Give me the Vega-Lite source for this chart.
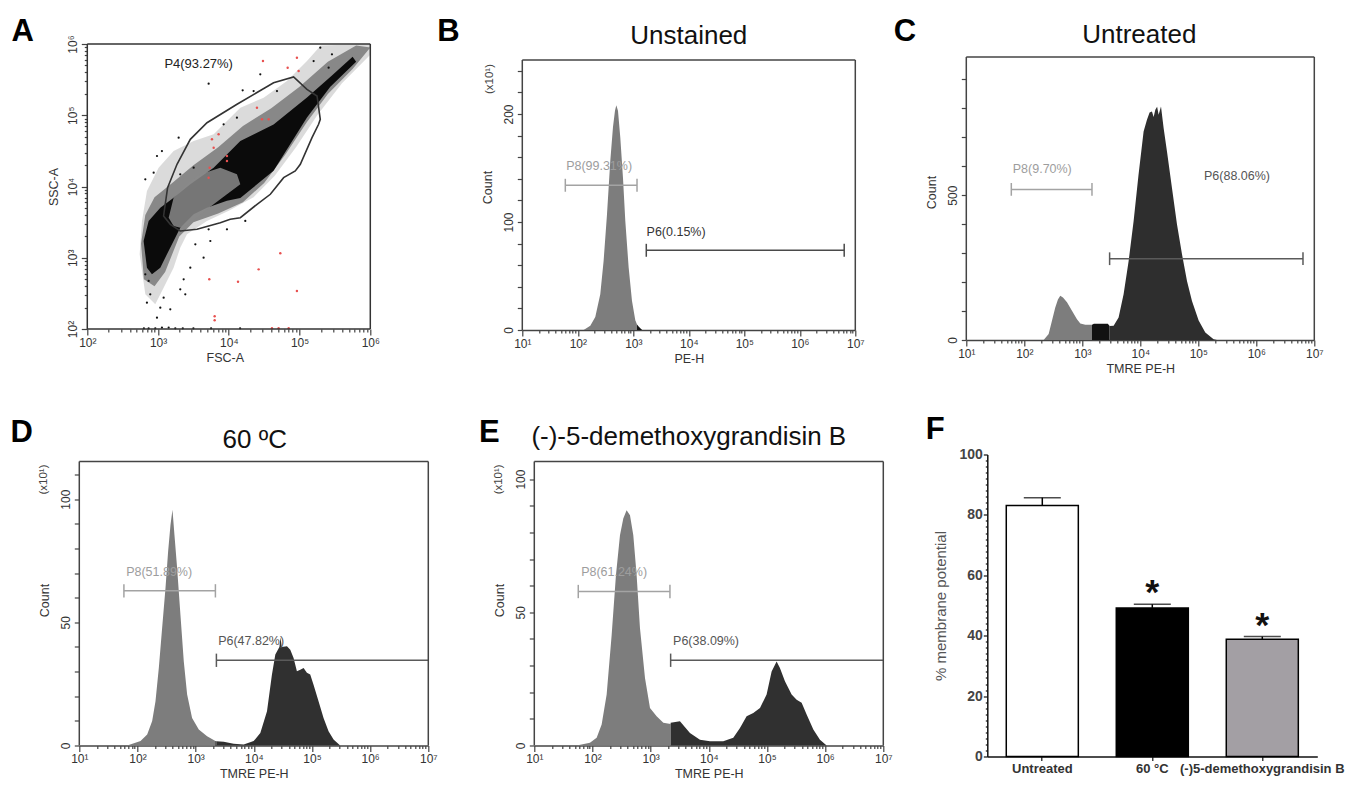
{
  "$schema": "https://vega.github.io/schema/vega-lite/v6.json",
  "background": "white",
  "padding": {"left": 10.3, "top": 15, "right": 5, "bottom": 5},
  "config": {
    "font": "Liberation Sans",
    "view": {"stroke": null},
    "axis": {"grid": false, "domainColor": "#444", "domainWidth": 1.5, "tickColor": "#444", "tickWidth": 1.2, "labelColor": "#333", "titleColor": "#333", "labelFont": "Liberation Sans", "titleFont": "Liberation Sans", "labelFontSize": 12, "titleFontSize": 12.5, "titleFontWeight": "normal"},
    "text": {"font": "Liberation Sans"}
  },
  "spacing": 38.5,
  "resolve": {"scale": {"fill": "independent", "stroke": "independent", "color": "independent"}},
  "vconcat": [
    {
      "spacing": 56,
      "resolve": {"scale": {"fill": "independent", "stroke": "independent", "color": "independent"}},
      "hconcat": [
        {
          "width": 291, "height": 285,
          "encoding": {
            "x": {"field": "fsc", "type": "quantitative", "scale": {"domain": [1.887, 6], "nice": false, "zero": false},
              "axis": {"title": "FSC-A", "domain": false, "tickCount": 100, "values": [2,2.301,2.477,2.602,2.699,2.778,2.845,2.903,2.954,3,3.301,3.477,3.602,3.699,3.778,3.845,3.903,3.954,4,4.301,4.477,4.602,4.699,4.778,4.845,4.903,4.954,5,5.301,5.477,5.602,5.699,5.778,5.845,5.903,5.954,6],
                "labelExpr": "abs(datum.value - round(datum.value)) < 0.001 ? '10' + ['⁰','¹','²','³','⁴','⁵','⁶','⁷'][round(datum.value)] : ''",
                "tickSize": {"condition": {"test": "abs(datum.value - round(datum.value)) < 0.001", "value": 6}, "value": 3},
                "labelOverlap": false, "labelFlush": false, "labelPadding": 2, "titlePadding": 3}},
            "y": {"field": "ssc", "type": "quantitative", "scale": {"domain": [2, 6], "nice": false, "zero": false},
              "axis": {"title": "SSC-A", "domain": false, "offset": -8, "tickCount": 100, "values": [2,2.301,2.477,2.602,2.699,2.778,2.845,2.903,2.954,3,3.301,3.477,3.602,3.699,3.778,3.845,3.903,3.954,4,4.301,4.477,4.602,4.699,4.778,4.845,4.903,4.954,5,5.301,5.477,5.602,5.699,5.778,5.845,5.903,5.954,6],
                "labelExpr": "abs(datum.value - round(datum.value)) < 0.001 ? '10' + ['⁰','¹','²','³','⁴','⁵','⁶','⁷'][round(datum.value)] : ''",
                "tickSize": {"condition": {"test": "abs(datum.value - round(datum.value)) < 0.001", "value": 6}, "value": 3},
                "labelOverlap": false, "labelFlush": false, "labelAngle": 270, "labelAlign": "center", "labelBaseline": "bottom", "labelPadding": 2, "titlePadding": 6}}
          },
          "layer": [
            {"data": {"values": [{"i":0,"fsc":2.82,"ssc":2.487},{"i":1,"fsc":2.74,"ssc":3.048},{"i":2,"fsc":2.773,"ssc":3.516},{"i":3,"fsc":2.843,"ssc":3.937},{"i":4,"fsc":3.008,"ssc":4.264},{"i":5,"fsc":3.22,"ssc":4.498},{"i":6,"fsc":3.503,"ssc":4.639},{"i":7,"fsc":3.786,"ssc":4.732},{"i":8,"fsc":4.163,"ssc":5.106},{"i":9,"fsc":4.492,"ssc":5.247},{"i":10,"fsc":4.822,"ssc":5.481},{"i":11,"fsc":5.105,"ssc":5.761},{"i":12,"fsc":5.3,"ssc":5.98},{"i":13,"fsc":6.0,"ssc":6.0},{"i":14,"fsc":6.0,"ssc":5.85},{"i":15,"fsc":5.6,"ssc":5.45},{"i":16,"fsc":5.25,"ssc":5.0},{"i":17,"fsc":4.95,"ssc":4.55},{"i":18,"fsc":4.65,"ssc":4.15},{"i":19,"fsc":4.35,"ssc":3.85},{"i":20,"fsc":4.0,"ssc":3.66},{"i":21,"fsc":3.691,"ssc":3.516},{"i":22,"fsc":3.409,"ssc":3.329},{"i":23,"fsc":3.314,"ssc":3.141},{"i":24,"fsc":3.22,"ssc":2.861},{"i":25,"fsc":3.079,"ssc":2.58},{"i":26,"fsc":2.961,"ssc":2.346}]},
             "mark": {"type": "line", "interpolate": "linear-closed", "fill": "#000", "fillOpacity": 0.14, "strokeOpacity": 0},
             "encoding": {"order": {"field": "i", "type": "quantitative"}}},
            {"data": {"values": [{"i":0,"fsc":2.8,"ssc":2.7},{"i":1,"fsc":2.76,"ssc":3.2},{"i":2,"fsc":2.82,"ssc":3.6},{"i":3,"fsc":2.95,"ssc":3.85},{"i":4,"fsc":3.2,"ssc":4.05},{"i":5,"fsc":3.5,"ssc":4.3},{"i":6,"fsc":3.85,"ssc":4.55},{"i":7,"fsc":4.2,"ssc":4.85},{"i":8,"fsc":4.6,"ssc":5.1},{"i":9,"fsc":5.0,"ssc":5.4},{"i":10,"fsc":5.4,"ssc":5.75},{"i":11,"fsc":5.8,"ssc":5.98},{"i":12,"fsc":6.0,"ssc":5.95},{"i":13,"fsc":5.75,"ssc":5.65},{"i":14,"fsc":5.4,"ssc":5.3},{"i":15,"fsc":5.1,"ssc":4.9},{"i":16,"fsc":4.8,"ssc":4.45},{"i":17,"fsc":4.5,"ssc":4.05},{"i":18,"fsc":4.2,"ssc":3.78},{"i":19,"fsc":3.85,"ssc":3.62},{"i":20,"fsc":3.5,"ssc":3.5},{"i":21,"fsc":3.3,"ssc":3.3},{"i":22,"fsc":3.2,"ssc":3.05},{"i":23,"fsc":3.1,"ssc":2.8},{"i":24,"fsc":2.95,"ssc":2.6}]},
             "mark": {"type": "line", "interpolate": "linear-closed", "fill": "#000", "fillOpacity": 0.38, "strokeOpacity": 0},
             "encoding": {"order": {"field": "i", "type": "quantitative"}}},
            {"data": {"values": [{"i":0,"fsc":2.843,"ssc":2.861},{"i":1,"fsc":2.796,"ssc":3.235},{"i":2,"fsc":2.867,"ssc":3.516},{"i":3,"fsc":3.032,"ssc":3.703},{"i":4,"fsc":3.22,"ssc":3.843},{"i":5,"fsc":3.456,"ssc":4.03},{"i":6,"fsc":3.786,"ssc":4.264},{"i":7,"fsc":4.163,"ssc":4.64},{"i":8,"fsc":4.633,"ssc":4.87},{"i":9,"fsc":5.105,"ssc":5.25},{"i":10,"fsc":5.45,"ssc":5.55},{"i":11,"fsc":5.75,"ssc":5.82},{"i":12,"fsc":5.8,"ssc":5.75},{"i":13,"fsc":5.435,"ssc":5.4},{"i":14,"fsc":5.105,"ssc":4.97},{"i":15,"fsc":4.633,"ssc":4.22},{"i":16,"fsc":4.163,"ssc":3.84},{"i":17,"fsc":3.974,"ssc":3.8},{"i":18,"fsc":3.691,"ssc":3.703},{"i":19,"fsc":3.503,"ssc":3.609},{"i":20,"fsc":3.314,"ssc":3.422},{"i":21,"fsc":3.22,"ssc":3.235},{"i":22,"fsc":3.126,"ssc":3.048},{"i":23,"fsc":3.032,"ssc":2.861},{"i":24,"fsc":2.914,"ssc":2.767}]},
             "mark": {"type": "line", "interpolate": "linear-closed", "fill": "#000", "fillOpacity": 0.92, "strokeOpacity": 0},
             "encoding": {"order": {"field": "i", "type": "quantitative"}}},
            {"data": {"values": [{"i":0,"fsc":3.15,"ssc":3.563},{"i":1,"fsc":3.22,"ssc":3.843},{"i":2,"fsc":3.409,"ssc":4.03},{"i":3,"fsc":3.597,"ssc":4.171},{"i":4,"fsc":3.88,"ssc":4.264},{"i":5,"fsc":4.115,"ssc":4.171},{"i":6,"fsc":4.163,"ssc":4.03},{"i":7,"fsc":3.974,"ssc":3.89},{"i":8,"fsc":3.786,"ssc":3.75},{"i":9,"fsc":3.597,"ssc":3.609},{"i":10,"fsc":3.456,"ssc":3.492},{"i":11,"fsc":3.314,"ssc":3.422},{"i":12,"fsc":3.22,"ssc":3.446}]},
             "mark": {"type": "line", "interpolate": "linear-closed", "fill": "#8a8a8a", "fillOpacity": 0.85, "strokeOpacity": 0},
             "encoding": {"order": {"field": "i", "type": "quantitative"}}},
            {"data": {"values": [{"fsc":3.715,"ssc":5.443},{"fsc":4.196,"ssc":5.35},{"fsc":3.291,"ssc":4.685},{"fsc":3.055,"ssc":4.498},{"fsc":2.985,"ssc":4.428},{"fsc":2.938,"ssc":4.194},{"fsc":2.82,"ssc":4.101},{"fsc":2.82,"ssc":2.767},{"fsc":2.867,"ssc":2.674},{"fsc":2.89,"ssc":2.487},{"fsc":3.032,"ssc":2.299},{"fsc":3.173,"ssc":2.276},{"fsc":2.985,"ssc":2.159},{"fsc":2.843,"ssc":2.37},{"fsc":3.079,"ssc":2.44},{"fsc":3.314,"ssc":2.557},{"fsc":3.385,"ssc":2.487},{"fsc":3.362,"ssc":2.697},{"fsc":3.456,"ssc":2.861},{"fsc":3.644,"ssc":3.001},{"fsc":3.739,"ssc":3.235},{"fsc":3.974,"ssc":3.399},{"fsc":4.233,"ssc":3.516},{"fsc":3.527,"ssc":3.188},{"fsc":3.715,"ssc":3.399},{"fsc":2.867,"ssc":2.01},{"fsc":2.961,"ssc":2.01},{"fsc":3.055,"ssc":2.02},{"fsc":3.15,"ssc":2.02},{"fsc":3.244,"ssc":2.01},{"fsc":2.8,"ssc":2.01},{"fsc":3.35,"ssc":2.01},{"fsc":3.5,"ssc":2.01},{"fsc":3.75,"ssc":2.01},{"fsc":4.16,"ssc":2.01},{"fsc":5.293,"ssc":5.949},{"fsc":5.199,"ssc":5.761},{"fsc":5.411,"ssc":5.668},{"fsc":5.458,"ssc":5.855},{"fsc":4.445,"ssc":5.574},{"fsc":4.681,"ssc":5.34},{"fsc":4.351,"ssc":5.34},{"fsc":4.115,"ssc":4.966},{"fsc":3.927,"ssc":4.873},{"fsc":3.503,"ssc":4.264},{"fsc":3.314,"ssc":4.171}]},
             "mark": {"type": "point", "filled": true, "size": 5, "color": "#111", "opacity": 1},
             "encoding": {}},
            {"data": {"values": [{"fsc":4.483,"ssc":5.761},{"fsc":4.832,"ssc":5.668},{"fsc":4.963,"ssc":5.808},{"fsc":4.987,"ssc":5.621},{"fsc":3.856,"ssc":4.732},{"fsc":3.762,"ssc":4.662},{"fsc":3.786,"ssc":4.545},{"fsc":3.974,"ssc":4.428},{"fsc":3.974,"ssc":4.358},{"fsc":3.729,"ssc":4.264},{"fsc":3.715,"ssc":4.124},{"fsc":4.398,"ssc":5.106},{"fsc":4.469,"ssc":4.943},{"fsc":4.563,"ssc":4.943},{"fsc":4.728,"ssc":3.062},{"fsc":4.422,"ssc":2.837},{"fsc":4.13,"ssc":2.664},{"fsc":3.724,"ssc":2.697},{"fsc":4.963,"ssc":2.533},{"fsc":3.8,"ssc":2.178},{"fsc":3.8,"ssc":2.122},{"fsc":4.61,"ssc":2.01},{"fsc":4.704,"ssc":2.01},{"fsc":4.846,"ssc":2.01}]},
             "mark": {"type": "point", "filled": true, "size": 6, "color": "#e8504f", "opacity": 1},
             "encoding": {}},
            {"data": {"values": [{"i":0,"fsc":3.078,"ssc":3.586},{"i":1,"fsc":3.135,"ssc":3.983},{"i":2,"fsc":3.268,"ssc":4.312},{"i":3,"fsc":3.456,"ssc":4.662},{"i":4,"fsc":3.692,"ssc":4.895},{"i":5,"fsc":4.116,"ssc":5.154},{"i":6,"fsc":4.633,"ssc":5.457},{"i":7,"fsc":4.916,"ssc":5.537},{"i":8,"fsc":5.105,"ssc":5.364},{"i":9,"fsc":5.247,"ssc":5.27},{"i":10,"fsc":5.293,"ssc":4.943},{"i":11,"fsc":5.269,"ssc":4.873},{"i":12,"fsc":5.176,"ssc":4.685},{"i":13,"fsc":5.011,"ssc":4.312},{"i":14,"fsc":4.94,"ssc":4.218},{"i":15,"fsc":4.775,"ssc":4.124},{"i":16,"fsc":4.587,"ssc":3.891},{"i":17,"fsc":4.399,"ssc":3.75},{"i":18,"fsc":4.163,"ssc":3.562},{"i":19,"fsc":4.02,"ssc":3.54},{"i":20,"fsc":3.88,"ssc":3.492},{"i":21,"fsc":3.55,"ssc":3.399},{"i":22,"fsc":3.314,"ssc":3.375},{"i":23,"fsc":3.173,"ssc":3.469}]},
             "mark": {"type": "line", "interpolate": "linear-closed", "color": "#333", "strokeWidth": 1.6},
             "encoding": {"order": {"field": "i", "type": "quantitative"}}},
            {"data": {"values": [{"fsc":2,"fsc_end":6,"ssc":2,"ssc_end":2},{"fsc":2,"fsc_end":6,"ssc":6,"ssc_end":6},{"fsc":2,"fsc_end":2,"ssc":2,"ssc_end":6},{"fsc":6,"fsc_end":6,"ssc":2,"ssc_end":6}]},
             "mark": {"type": "rule", "color": "#333", "strokeWidth": 1.5},
             "encoding": {"x2": {"field": "fsc_end"}, "y2": {"field": "ssc_end"}}},
            {"data": {"values": [{"fsc": 3.574, "ssc": 5.715, "label": "P4(93.27%)"}]},
             "mark": {"type": "text", "fontSize": 13, "color": "#222", "baseline": "middle"},
             "encoding": {"text": {"field": "label"}}},
            {"data": {"values": [{"fsc": 1.088, "ssc": 6.042, "label": "A"}]},
             "mark": {"type": "text", "fontSize": 31, "fontWeight": "bold", "color": "#000", "baseline": "alphabetic"},
             "encoding": {"text": {"field": "label"}}}
          ]
        },
        {
          "spacing": 29,
          "resolve": {"scale": {"fill": "independent", "stroke": "independent", "color": "independent"}},
          "hconcat": [
            {
              "width": 333, "height": 286,
              "encoding": {
                "x": {"field": "log_pe", "type": "quantitative", "scale": {"domain": [1, 7], "nice": false, "zero": false},
                  "axis": {"title": "PE-H", "tickCount": 100, "values": [1,1.301,1.477,1.602,1.699,1.778,1.845,1.903,1.954,2,2.301,2.477,2.602,2.699,2.778,2.845,2.903,2.954,3,3.301,3.477,3.602,3.699,3.778,3.845,3.903,3.954,4,4.301,4.477,4.602,4.699,4.778,4.845,4.903,4.954,5,5.301,5.477,5.602,5.699,5.778,5.845,5.903,5.954,6,6.301,6.477,6.602,6.699,6.778,6.845,6.903,6.954,7],
                    "labelExpr": "abs(datum.value - round(datum.value)) < 0.001 ? '10' + ['⁰','¹','²','³','⁴','⁵','⁶','⁷'][round(datum.value)] : ''",
                    "tickSize": {"condition": {"test": "abs(datum.value - round(datum.value)) < 0.001", "value": 6}, "value": 3},
                    "labelOverlap": false, "labelFlush": false, "labelPadding": 2, "titlePadding": 3}},
                "y": {"field": "count", "type": "quantitative", "stack": null, "scale": {"domain": [0, 264.8], "nice": false, "zero": false},
                  "axis": {"title": "Count", "domain": false, "tickCount": 100, "values": [0,20,40,60,80,100,120,140,160,180,200,220,240], "labelExpr": "datum.value % 100 === 0 ? datum.label : ''", "labelOverlap": false, "labelAngle": 270, "labelAlign": "center", "labelBaseline": "bottom", "tickSize": 5, "labelPadding": 2, "titlePadding": 8}}
              },
              "layer": [
                {"data": {"values": [{"gate":"P8","log_pe":2.105,"count":0},{"gate":"P8","log_pe":2.225,"count":4},{"gate":"P8","log_pe":2.315,"count":12},{"gate":"P8","log_pe":2.405,"count":33},{"gate":"P8","log_pe":2.465,"count":64},{"gate":"P8","log_pe":2.526,"count":107},{"gate":"P8","log_pe":2.586,"count":157},{"gate":"P8","log_pe":2.634,"count":188},{"gate":"P8","log_pe":2.67,"count":203},{"gate":"P8","log_pe":2.694,"count":208},{"gate":"P8","log_pe":2.724,"count":203},{"gate":"P8","log_pe":2.766,"count":178},{"gate":"P8","log_pe":2.814,"count":141},{"gate":"P8","log_pe":2.856,"count":101},{"gate":"P8","log_pe":2.916,"count":58},{"gate":"P8","log_pe":2.976,"count":27},{"gate":"P8","log_pe":3.036,"count":9},{"gate":"P8","log_pe":3.067,"count":5},{"gate":"between","log_pe":3.067,"count":5},{"gate":"between","log_pe":3.1,"count":3},{"gate":"between","log_pe":3.14,"count":1},{"gate":"between","log_pe":3.16,"count":0}]},
                 "mark": {"type": "area"},
                 "encoding": {"fill": {"field": "gate", "type": "nominal", "scale": {"domain": ["P8", "between", "P6"], "range": ["#7d7d7d", "#121212", "#2e2e2e"]}, "legend": null}}},
                {"data": {"values": [{"gate":"P8","log_pe":1.775,"log_pe_end":3.067,"count":134,"count_end":134},{"gate":"P8","log_pe":1.775,"log_pe_end":1.775,"count":128,"count_end":140},{"gate":"P8","log_pe":3.067,"log_pe_end":3.067,"count":128,"count_end":140},{"gate":"P6","log_pe":3.234,"log_pe_end":6.8,"count":73.8,"count_end":73.8},{"gate":"P6","log_pe":3.234,"log_pe_end":3.234,"count":67.8,"count_end":79.8},{"gate":"P6","log_pe":6.8,"log_pe_end":6.8,"count":67.8,"count_end":79.8}]},
                 "mark": {"type": "rule", "strokeWidth": 1.5},
                 "encoding": {"x2": {"field": "log_pe_end"}, "y2": {"field": "count_end"}, "stroke": {"field": "gate", "type": "nominal", "scale": {"domain": ["P8", "P6"], "range": ["#a3a3a3", "#4a4a4a"]}, "legend": null}}},
                {"data": {"values": [{"log_pe":1,"log_pe_end":7,"count":250,"count_end":250},{"log_pe":1,"log_pe_end":1,"count":0,"count_end":250},{"log_pe":7,"log_pe_end":7,"count":0,"count_end":250}]},
                 "mark": {"type": "rule", "color": "#444", "strokeWidth": 1.5},
                 "encoding": {"x2": {"field": "log_pe_end"}, "y2": {"field": "count_end"}}},
                {"data": {"values": [{"gate":"P8","log_pe":2.384,"count":151.9,"label":"P8(99.31%)"},{"gate":"P6","log_pe":3.771,"count":90.7,"label":"P6(0.15%)"}]},
                 "mark": {"type": "text", "fontSize": 12.5, "baseline": "middle"},
                 "encoding": {"text": {"field": "label"}, "color": {"field": "gate", "type": "nominal", "scale": {"domain": ["P8", "P6"], "range": ["#9d9d9d", "#333333"]}, "legend": null}}},
                {"data": {"values": [{"log_pe": 0.423, "count": 232.4, "label": "(x10¹)"}]},
                 "mark": {"type": "text", "angle": 270, "fontSize": 11.5, "color": "#444", "baseline": "middle"},
                 "encoding": {"text": {"field": "label"}}},
                {"data": {"values": [{"log_pe": 4.0, "count": 264.8, "label": "Unstained"}]},
                 "mark": {"type": "text", "fontSize": 26, "color": "#111", "baseline": "alphabetic"},
                 "encoding": {"text": {"field": "label"}}},
                {"data": {"values": [{"log_pe": -0.333, "count": 267.6, "label": "B"}]},
                 "mark": {"type": "text", "fontSize": 31, "fontWeight": "bold", "color": "#000", "baseline": "alphabetic"},
                 "encoding": {"text": {"field": "label"}}}
              ]
            },
            {
              "width": 348, "height": 296,
              "encoding": {
                "x": {"field": "log_pe", "type": "quantitative", "scale": {"domain": [1, 7], "nice": false, "zero": false},
                  "axis": {"title": "TMRE PE-H", "tickCount": 100, "values": [1,1.301,1.477,1.602,1.699,1.778,1.845,1.903,1.954,2,2.301,2.477,2.602,2.699,2.778,2.845,2.903,2.954,3,3.301,3.477,3.602,3.699,3.778,3.845,3.903,3.954,4,4.301,4.477,4.602,4.699,4.778,4.845,4.903,4.954,5,5.301,5.477,5.602,5.699,5.778,5.845,5.903,5.954,6,6.301,6.477,6.602,6.699,6.778,6.845,6.903,6.954,7],
                    "labelExpr": "abs(datum.value - round(datum.value)) < 0.001 ? '10' + ['⁰','¹','²','³','⁴','⁵','⁶','⁷'][round(datum.value)] : ''",
                    "tickSize": {"condition": {"test": "abs(datum.value - round(datum.value)) < 0.001", "value": 6}, "value": 3},
                    "labelOverlap": false, "labelFlush": false, "labelPadding": 2, "titlePadding": 3}},
                "y": {"field": "count", "type": "quantitative", "stack": null, "scale": {"domain": [0, 1021.9], "nice": false, "zero": false},
                  "axis": {"title": "Count", "domain": false, "tickCount": 100, "values": [0,100,200,300,400,500,600,700,800,900], "labelExpr": "datum.value % 500 === 0 ? datum.label : ''", "labelOverlap": false, "labelAngle": 270, "labelAlign": "center", "labelBaseline": "bottom", "tickSize": 5, "labelPadding": 2, "titlePadding": 8}}
              },
              "layer": [
                {"data": {"values": [{"gate":"P8","log_pe":2.333,"count":0},{"gate":"P8","log_pe":2.42,"count":21},{"gate":"P8","log_pe":2.478,"count":67},{"gate":"P8","log_pe":2.534,"count":112},{"gate":"P8","log_pe":2.58,"count":140},{"gate":"P8","log_pe":2.62,"count":153},{"gate":"P8","log_pe":2.667,"count":147},{"gate":"P8","log_pe":2.736,"count":130},{"gate":"P8","log_pe":2.822,"count":101},{"gate":"P8","log_pe":2.908,"count":72},{"gate":"P8","log_pe":2.966,"count":57},{"gate":"P8","log_pe":3.052,"count":53},{"gate":"P8","log_pe":3.167,"count":53},{"gate":"between","log_pe":3.167,"count":53},{"gate":"between","log_pe":3.2,"count":56},{"gate":"between","log_pe":3.44,"count":56},{"gate":"between","log_pe":3.471,"count":48},{"gate":"P6","log_pe":3.471,"count":48},{"gate":"P6","log_pe":3.54,"count":49},{"gate":"P6","log_pe":3.626,"count":78},{"gate":"P6","log_pe":3.712,"count":158},{"gate":"P6","log_pe":3.799,"count":273},{"gate":"P6","log_pe":3.885,"count":411},{"gate":"P6","log_pe":3.97,"count":571},{"gate":"P6","log_pe":4.057,"count":720},{"gate":"P6","log_pe":4.115,"count":760},{"gate":"P6","log_pe":4.16,"count":785},{"gate":"P6","log_pe":4.201,"count":789},{"gate":"P6","log_pe":4.23,"count":770},{"gate":"P6","log_pe":4.259,"count":795},{"gate":"P6","log_pe":4.29,"count":805},{"gate":"P6","log_pe":4.316,"count":778},{"gate":"P6","log_pe":4.357,"count":806},{"gate":"P6","log_pe":4.402,"count":732},{"gate":"P6","log_pe":4.46,"count":651},{"gate":"P6","log_pe":4.546,"count":525},{"gate":"P6","log_pe":4.633,"count":399},{"gate":"P6","log_pe":4.719,"count":296},{"gate":"P6","log_pe":4.805,"count":204},{"gate":"P6","log_pe":4.891,"count":135},{"gate":"P6","log_pe":5.006,"count":67},{"gate":"P6","log_pe":5.121,"count":26},{"gate":"P6","log_pe":5.264,"count":3},{"gate":"P6","log_pe":5.322,"count":0}]},
                 "mark": {"type": "area"},
                 "encoding": {"fill": {"field": "gate", "type": "nominal", "scale": {"domain": ["P8", "between", "P6"], "range": ["#7d7d7d", "#121212", "#2e2e2e"]}, "legend": null}}},
                {"data": {"values": [{"gate":"P8","log_pe":1.776,"log_pe_end":3.167,"count":520,"count_end":520},{"gate":"P8","log_pe":1.776,"log_pe_end":1.776,"count":498,"count_end":542},{"gate":"P8","log_pe":3.167,"log_pe_end":3.167,"count":498,"count_end":542},{"gate":"P6","log_pe":3.471,"log_pe_end":6.805,"count":280.6,"count_end":280.6},{"gate":"P6","log_pe":3.471,"log_pe_end":3.471,"count":258.6,"count_end":302.6},{"gate":"P6","log_pe":6.805,"log_pe_end":6.805,"count":258.6,"count_end":302.6}]},
                 "mark": {"type": "rule", "strokeWidth": 1.5},
                 "encoding": {"x2": {"field": "log_pe_end"}, "y2": {"field": "count_end"}, "stroke": {"field": "gate", "type": "nominal", "scale": {"domain": ["P8", "P6"], "range": ["#a3a3a3", "#5a5a5a"]}, "legend": null}}},
                {"data": {"values": [{"log_pe":1,"log_pe_end":7,"count":977,"count_end":977},{"log_pe":1,"log_pe_end":1,"count":0,"count_end":977},{"log_pe":7,"log_pe_end":7,"count":0,"count_end":977}]},
                 "mark": {"type": "rule", "color": "#444", "strokeWidth": 1.5},
                 "encoding": {"x2": {"field": "log_pe_end"}, "y2": {"field": "count_end"}}},
                {"data": {"values": [{"gate":"P8","log_pe":2.31,"count":589,"label":"P8(9.70%)"},{"gate":"P6","log_pe":5.667,"count":566,"label":"P6(88.06%)"}]},
                 "mark": {"type": "text", "fontSize": 12.5, "baseline": "middle"},
                 "encoding": {"text": {"field": "label"}, "color": {"field": "gate", "type": "nominal", "scale": {"domain": ["P8", "P6"], "range": ["#9d9d9d", "#555555"]}, "legend": null}}},
                {"data": {"values": [{"log_pe": 3.983, "count": 1025.3, "label": "Untreated"}]},
                 "mark": {"type": "text", "fontSize": 26, "color": "#111", "baseline": "alphabetic"},
                 "encoding": {"text": {"field": "label"}}},
                {"data": {"values": [{"log_pe": -0.06, "count": 1032.2, "label": "C"}]},
                 "mark": {"type": "text", "fontSize": 31, "fontWeight": "bold", "color": "#000", "baseline": "alphabetic"},
                 "encoding": {"text": {"field": "label"}}}
              ]
            }
          ]
        }
      ]
    },
    {
      "spacing": 33,
      "resolve": {"scale": {"fill": "independent", "stroke": "independent", "color": "independent"}},
      "hconcat": [
        {
          "spacing": 41,
          "resolve": {"scale": {"fill": "independent", "stroke": "independent", "color": "independent"}},
          "hconcat": [
            {
              "width": 349, "height": 291,
              "encoding": {
                "x": {"field": "log_pe", "type": "quantitative", "scale": {"domain": [1, 7], "nice": false, "zero": false},
                  "axis": {"title": "TMRE PE-H", "tickCount": 100, "values": [1,1.301,1.477,1.602,1.699,1.778,1.845,1.903,1.954,2,2.301,2.477,2.602,2.699,2.778,2.845,2.903,2.954,3,3.301,3.477,3.602,3.699,3.778,3.845,3.903,3.954,4,4.301,4.477,4.602,4.699,4.778,4.845,4.903,4.954,5,5.301,5.477,5.602,5.699,5.778,5.845,5.903,5.954,6,6.301,6.477,6.602,6.699,6.778,6.845,6.903,6.954,7],
                    "labelExpr": "abs(datum.value - round(datum.value)) < 0.001 ? '10' + ['⁰','¹','²','³','⁴','⁵','⁶','⁷'][round(datum.value)] : ''",
                    "tickSize": {"condition": {"test": "abs(datum.value - round(datum.value)) < 0.001", "value": 6}, "value": 3},
                    "labelOverlap": false, "labelFlush": false, "labelPadding": 2, "titlePadding": 3}},
                "y": {"field": "count", "type": "quantitative", "stack": null, "scale": {"domain": [0, 118.15], "nice": false, "zero": false},
                  "axis": {"title": "Count", "domain": false, "tickCount": 100, "values": [0,10,20,30,40,50,60,70,80,90,100,110], "labelExpr": "datum.value % 50 === 0 ? datum.label : ''", "labelOverlap": false, "labelAngle": 270, "labelAlign": "center", "labelBaseline": "bottom", "tickSize": 5, "labelPadding": 2, "titlePadding": 8}}
              },
              "layer": [
                {"data": {"values": [{"gate":"P8","log_pe":1.824,"count":0},{"gate":"P8","log_pe":2.053,"count":1.8},{"gate":"P8","log_pe":2.167,"count":4.5},{"gate":"P8","log_pe":2.253,"count":9.9},{"gate":"P8","log_pe":2.31,"count":18},{"gate":"P8","log_pe":2.367,"count":31.5},{"gate":"P8","log_pe":2.424,"count":47.7},{"gate":"P8","log_pe":2.482,"count":63.9},{"gate":"P8","log_pe":2.527,"count":78.8},{"gate":"P8","log_pe":2.568,"count":89.6},{"gate":"P8","log_pe":2.602,"count":95.7},{"gate":"P8","log_pe":2.636,"count":85.5},{"gate":"P8","log_pe":2.682,"count":72},{"gate":"P8","log_pe":2.739,"count":53},{"gate":"P8","log_pe":2.796,"count":34.2},{"gate":"P8","log_pe":2.854,"count":20.7},{"gate":"P8","log_pe":2.939,"count":11.2},{"gate":"P8","log_pe":3.054,"count":6.5},{"gate":"P8","log_pe":3.197,"count":3.8},{"gate":"P8","log_pe":3.34,"count":1.8},{"gate":"between","log_pe":3.34,"count":1.8},{"gate":"between","log_pe":3.357,"count":1.7},{"gate":"P6","log_pe":3.357,"count":1.7},{"gate":"P6","log_pe":3.483,"count":1.5},{"gate":"P6","log_pe":3.654,"count":0.7},{"gate":"P6","log_pe":3.826,"count":0.4},{"gate":"P6","log_pe":3.998,"count":1.8},{"gate":"P6","log_pe":4.112,"count":5.1},{"gate":"P6","log_pe":4.227,"count":13.9},{"gate":"P6","log_pe":4.312,"count":28.8},{"gate":"P6","log_pe":4.37,"count":36.9},{"gate":"P6","log_pe":4.44,"count":40},{"gate":"P6","log_pe":4.46,"count":44},{"gate":"P6","log_pe":4.48,"count":40},{"gate":"P6","log_pe":4.57,"count":40.3},{"gate":"P6","log_pe":4.627,"count":38.9},{"gate":"P6","log_pe":4.684,"count":35.5},{"gate":"P6","log_pe":4.741,"count":30.1},{"gate":"P6","log_pe":4.799,"count":30.8},{"gate":"P6","log_pe":4.856,"count":31.5},{"gate":"P6","log_pe":4.913,"count":29.5},{"gate":"P6","log_pe":4.97,"count":28.8},{"gate":"P6","log_pe":5.027,"count":24.7},{"gate":"P6","log_pe":5.113,"count":18},{"gate":"P6","log_pe":5.199,"count":11.2},{"gate":"P6","log_pe":5.285,"count":5.8},{"gate":"P6","log_pe":5.371,"count":2.4},{"gate":"P6","log_pe":5.485,"count":0}]},
                 "mark": {"type": "area"},
                 "encoding": {"fill": {"field": "gate", "type": "nominal", "scale": {"domain": ["P8", "between", "P6"], "range": ["#7d7d7d", "#121212", "#303030"]}, "legend": null}}},
                {"data": {"values": [{"gate":"P8","log_pe":1.767,"log_pe_end":3.34,"count":62.8,"count_end":62.8},{"gate":"P8","log_pe":1.767,"log_pe_end":1.767,"count":60.1,"count_end":65.5},{"gate":"P8","log_pe":3.34,"log_pe_end":3.34,"count":60.1,"count_end":65.5},{"gate":"P6","log_pe":3.357,"log_pe_end":7,"count":34.6,"count_end":34.6},{"gate":"P6","log_pe":3.357,"log_pe_end":3.357,"count":31.9,"count_end":37.3}]},
                 "mark": {"type": "rule", "strokeWidth": 1.5},
                 "encoding": {"x2": {"field": "log_pe_end"}, "y2": {"field": "count_end"}, "stroke": {"field": "gate", "type": "nominal", "scale": {"domain": ["P8", "P6"], "range": ["#a3a3a3", "#5a5a5a"]}, "legend": null}}},
                {"data": {"values": [{"log_pe":1,"log_pe_end":7,"count":115.3,"count_end":115.3},{"log_pe":1,"log_pe_end":1,"count":0,"count_end":115.3},{"log_pe":7,"log_pe_end":7,"count":0,"count_end":115.3}]},
                 "mark": {"type": "rule", "color": "#444", "strokeWidth": 1.5},
                 "encoding": {"x2": {"field": "log_pe_end"}, "y2": {"field": "count_end"}}},
                {"data": {"values": [{"gate":"P8","log_pe":2.373,"count":70.6,"label":"P8(51.89%)"},{"gate":"P6","log_pe":3.954,"count":42.5,"label":"P6(47.82%)"}]},
                 "mark": {"type": "text", "fontSize": 12.5, "baseline": "middle"},
                 "encoding": {"text": {"field": "label"}, "color": {"field": "gate", "type": "nominal", "scale": {"domain": ["P8", "P6"], "range": ["#9d9d9d", "#555555"]}, "legend": null}}},
                {"data": {"values": [{"log_pe": 0.399, "count": 108, "label": "(x10¹)"}]},
                 "mark": {"type": "text", "angle": 270, "fontSize": 11.5, "color": "#444", "baseline": "middle"},
                 "encoding": {"text": {"field": "label"}}},
                {"data": {"values": [{"log_pe": 4.017, "count": 120.6, "label": "60 ºC"}]},
                 "mark": {"type": "text", "fontSize": 26, "color": "#111", "baseline": "alphabetic"},
                 "encoding": {"text": {"field": "label"}}},
                {"data": {"values": [{"log_pe": 0.0115, "count": 123.4, "label": "D"}]},
                 "mark": {"type": "text", "fontSize": 31, "fontWeight": "bold", "color": "#000", "baseline": "alphabetic"},
                 "encoding": {"text": {"field": "label"}}}
              ]
            },
            {
              "width": 349, "height": 291,
              "encoding": {
                "x": {"field": "log_pe", "type": "quantitative", "scale": {"domain": [1, 7], "nice": false, "zero": false},
                  "axis": {"title": "TMRE PE-H", "tickCount": 100, "values": [1,1.301,1.477,1.602,1.699,1.778,1.845,1.903,1.954,2,2.301,2.477,2.602,2.699,2.778,2.845,2.903,2.954,3,3.301,3.477,3.602,3.699,3.778,3.845,3.903,3.954,4,4.301,4.477,4.602,4.699,4.778,4.845,4.903,4.954,5,5.301,5.477,5.602,5.699,5.778,5.845,5.903,5.954,6,6.301,6.477,6.602,6.699,6.778,6.845,6.903,6.954,7],
                    "labelExpr": "abs(datum.value - round(datum.value)) < 0.001 ? '10' + ['⁰','¹','²','³','⁴','⁵','⁶','⁷'][round(datum.value)] : ''",
                    "tickSize": {"condition": {"test": "abs(datum.value - round(datum.value)) < 0.001", "value": 6}, "value": 3},
                    "labelOverlap": false, "labelFlush": false, "labelPadding": 2, "titlePadding": 3}},
                "y": {"field": "count", "type": "quantitative", "stack": null, "scale": {"domain": [0, 109.23], "nice": false, "zero": false},
                  "axis": {"title": "Count", "domain": false, "tickCount": 100, "values": [0,10,20,30,40,50,60,70,80,90,100], "labelExpr": "datum.value % 50 === 0 ? datum.label : ''", "labelOverlap": false, "labelAngle": 270, "labelAlign": "center", "labelBaseline": "bottom", "tickSize": 5, "labelPadding": 2, "titlePadding": 8}}
              },
              "layer": [
                {"data": {"values": [{"gate":"P8","log_pe":1.728,"count":0},{"gate":"P8","log_pe":1.957,"count":1},{"gate":"P8","log_pe":2.072,"count":2.9},{"gate":"P8","log_pe":2.158,"count":7.9},{"gate":"P8","log_pe":2.244,"count":19.1},{"gate":"P8","log_pe":2.33,"count":41.5},{"gate":"P8","log_pe":2.404,"count":64},{"gate":"P8","log_pe":2.473,"count":78.9},{"gate":"P8","log_pe":2.53,"count":85.2},{"gate":"P8","log_pe":2.587,"count":88.3},{"gate":"P8","log_pe":2.645,"count":86.4},{"gate":"P8","log_pe":2.702,"count":78.9},{"gate":"P8","log_pe":2.759,"count":64},{"gate":"P8","log_pe":2.817,"count":44},{"gate":"P8","log_pe":2.903,"count":25.3},{"gate":"P8","log_pe":2.989,"count":14.1},{"gate":"P8","log_pe":3.103,"count":11},{"gate":"P8","log_pe":3.218,"count":8.5},{"gate":"P8","log_pe":3.344,"count":8.1},{"gate":"P6","log_pe":3.344,"count":8.5},{"gate":"P6","log_pe":3.504,"count":9.1},{"gate":"P6","log_pe":3.676,"count":4.7},{"gate":"P6","log_pe":3.848,"count":2.2},{"gate":"P6","log_pe":4.02,"count":1.6},{"gate":"P6","log_pe":4.249,"count":1.6},{"gate":"P6","log_pe":4.421,"count":2.9},{"gate":"P6","log_pe":4.536,"count":6.6},{"gate":"P6","log_pe":4.65,"count":11},{"gate":"P6","log_pe":4.765,"count":12.2},{"gate":"P6","log_pe":4.88,"count":14.1},{"gate":"P6","log_pe":4.994,"count":19.1},{"gate":"P6","log_pe":5.08,"count":27.8},{"gate":"P6","log_pe":5.166,"count":31.5},{"gate":"P6","log_pe":5.223,"count":29.1},{"gate":"P6","log_pe":5.309,"count":24.1},{"gate":"P6","log_pe":5.424,"count":19.1},{"gate":"P6","log_pe":5.51,"count":17.2},{"gate":"P6","log_pe":5.596,"count":16},{"gate":"P6","log_pe":5.682,"count":11.6},{"gate":"P6","log_pe":5.797,"count":6},{"gate":"P6","log_pe":5.911,"count":2.2},{"gate":"P6","log_pe":6.026,"count":0}]},
                 "mark": {"type": "area"},
                 "encoding": {"fill": {"field": "gate", "type": "nominal", "scale": {"domain": ["P8", "between", "P6"], "range": ["#7d7d7d", "#121212", "#303030"]}, "legend": null}}},
                {"data": {"values": [{"gate":"P8","log_pe":1.756,"log_pe_end":3.332,"count":57.8,"count_end":57.8},{"gate":"P8","log_pe":1.756,"log_pe_end":1.756,"count":55.3,"count_end":60.3},{"gate":"P8","log_pe":3.332,"log_pe_end":3.332,"count":55.3,"count_end":60.3},{"gate":"P6","log_pe":3.344,"log_pe_end":7,"count":32,"count_end":32},{"gate":"P6","log_pe":3.344,"log_pe_end":3.344,"count":29.5,"count_end":34.5}]},
                 "mark": {"type": "rule", "strokeWidth": 1.5},
                 "encoding": {"x2": {"field": "log_pe_end"}, "y2": {"field": "count_end"}, "stroke": {"field": "gate", "type": "nominal", "scale": {"domain": ["P8", "P6"], "range": ["#a3a3a3", "#5a5a5a"]}, "legend": null}}},
                {"data": {"values": [{"log_pe":1,"log_pe_end":7,"count":106.6,"count_end":106.6},{"log_pe":1,"log_pe_end":1,"count":0,"count_end":106.6},{"log_pe":7,"log_pe_end":7,"count":0,"count_end":106.6}]},
                 "mark": {"type": "rule", "color": "#444", "strokeWidth": 1.5},
                 "encoding": {"x2": {"field": "log_pe_end"}, "y2": {"field": "count_end"}}},
                {"data": {"values": [{"gate":"P8","log_pe":2.372,"count":65.3,"label":"P8(61.24%)"},{"gate":"P6","log_pe":3.953,"count":39.3,"label":"P6(38.09%)"}]},
                 "mark": {"type": "text", "fontSize": 12.5, "baseline": "middle"},
                 "encoding": {"text": {"field": "label"}, "color": {"field": "gate", "type": "nominal", "scale": {"domain": ["P8", "P6"], "range": ["#9d9d9d", "#555555"]}, "legend": null}}},
                {"data": {"values": [{"log_pe": 0.398, "count": 99.9, "label": "(x10¹)"}]},
                 "mark": {"type": "text", "angle": 270, "fontSize": 11.5, "color": "#444", "baseline": "middle"},
                 "encoding": {"text": {"field": "label"}}},
                {"data": {"values": [{"log_pe": 3.656, "count": 112.8, "label": "(-)-5-demethoxygrandisin B"}]},
                 "mark": {"type": "text", "fontSize": 26, "color": "#111", "baseline": "alphabetic"},
                 "encoding": {"text": {"field": "label"}}},
                {"data": {"values": [{"log_pe": 0.226, "count": 114.1, "label": "E"}]},
                 "mark": {"type": "text", "fontSize": 31, "fontWeight": "bold", "color": "#000", "baseline": "alphabetic"},
                 "encoding": {"text": {"field": "label"}}}
              ]
            }
          ]
        },
        {
          "width": 330, "height": 302,
          "resolve": {"scale": {"x": "independent"}},
          "layer": [
            {
              "data": {"values": [
                {"group": "Untreated", "mean": 83.1, "upper": 85.7, "star": ""},
                {"group": "60 °C", "mean": 49.2, "upper": 50.4, "star": "*"},
                {"group": "(-)5-demethoxygrandisin B", "mean": 38.8, "upper": 39.7, "star": "*"}
              ]},
              "layer": [
                {"mark": {"type": "bar", "stroke": "#000", "strokeWidth": 1.5},
                 "encoding": {
                   "x": {"field": "group", "type": "nominal", "sort": null, "scale": {"paddingInner": 0.345, "paddingOuter": 0.1725},
                     "axis": {"title": null, "labelAngle": 0, "labelFontWeight": "bold", "labelFontSize": 13, "labelColor": "#333", "labelOverlap": false, "labelBound": false, "labelFlush": false, "labelPadding": 2, "tickSize": 4, "domainColor": "#111", "tickColor": "#111"}},
                   "y": {"field": "mean", "type": "quantitative", "scale": {"domain": [0, 100], "nice": false},
                     "axis": {"title": "% membrane potential", "tickCount": 100, "values": [0,2,4,6,8,10,12,14,16,18,20,22,24,26,28,30,32,34,36,38,40,42,44,46,48,50,52,54,56,58,60,62,64,66,68,70,72,74,76,78,80,82,84,86,88,90,92,94,96,98,100],
                       "labelExpr": "datum.value % 20 === 0 ? datum.label : ''", "labelOverlap": false,
                       "labelFontSize": {"condition": {"test": "datum.value % 20 === 0", "value": 14}, "value": 0},
                       "tickSize": {"condition": {"test": "datum.value % 20 === 0", "value": 4}, "value": 2},
                       "labelFontWeight": "bold", "labelColor": "#444", "labelPadding": 1, "titleFontSize": 15, "titleColor": "#555", "titlePadding": 10, "domainColor": "#111", "tickColor": "#111"}},
                   "fill": {"field": "group", "type": "nominal", "sort": null, "scale": {"domain": ["Untreated", "60 °C", "(-)5-demethoxygrandisin B"], "range": ["#ffffff", "#000000", "#a39fa4"]}, "legend": null}
                 }},
                {"mark": {"type": "rule", "color": "#000", "strokeWidth": 1.5},
                 "encoding": {
                   "x": {"field": "group", "type": "nominal", "sort": null},
                   "y": {"field": "mean", "type": "quantitative", "title": "% membrane potential"},
                   "y2": {"field": "upper"}
                 }},
                {"mark": {"type": "tick", "size": 37, "thickness": 1.5, "color": "#000"},
                 "encoding": {
                   "x": {"field": "group", "type": "nominal", "sort": null},
                   "y": {"field": "upper", "type": "quantitative", "title": "% membrane potential"}
                 }},
                {"mark": {"type": "text", "fontSize": 36, "fontWeight": "bold", "color": "#111", "baseline": "alphabetic"},
                 "encoding": {
                   "x": {"field": "group", "type": "nominal", "sort": null},
                   "y": {"field": "upper", "type": "quantitative", "title": "% membrane potential"},
                   "text": {"field": "star"}
                 }}
              ]
            },
            {"data": {"values": [{"fx": -0.158, "fy": 105.0, "label": "F"}]},
             "mark": {"type": "text", "fontSize": 31, "fontWeight": "bold", "color": "#000", "baseline": "alphabetic"},
             "encoding": {
               "x": {"field": "fx", "type": "quantitative", "scale": {"domain": [0, 1]}, "axis": null},
               "y": {"field": "fy", "type": "quantitative", "scale": {"domain": [0, 100], "nice": false},
                 "axis": {"title": "% membrane potential", "tickCount": 100, "values": [0,2,4,6,8,10,12,14,16,18,20,22,24,26,28,30,32,34,36,38,40,42,44,46,48,50,52,54,56,58,60,62,64,66,68,70,72,74,76,78,80,82,84,86,88,90,92,94,96,98,100],
                   "labelExpr": "datum.value % 20 === 0 ? datum.label : ''", "labelOverlap": false,
                   "labelFontSize": {"condition": {"test": "datum.value % 20 === 0", "value": 14}, "value": 0},
                   "tickSize": {"condition": {"test": "datum.value % 20 === 0", "value": 4}, "value": 2},
                   "labelFontWeight": "bold", "labelColor": "#444", "labelPadding": 1, "titleFontSize": 15, "titleColor": "#555", "titlePadding": 10, "domainColor": "#111", "tickColor": "#111"}},
               "text": {"field": "label"}
             }}
          ]
        }
      ]
    }
  ]
}
